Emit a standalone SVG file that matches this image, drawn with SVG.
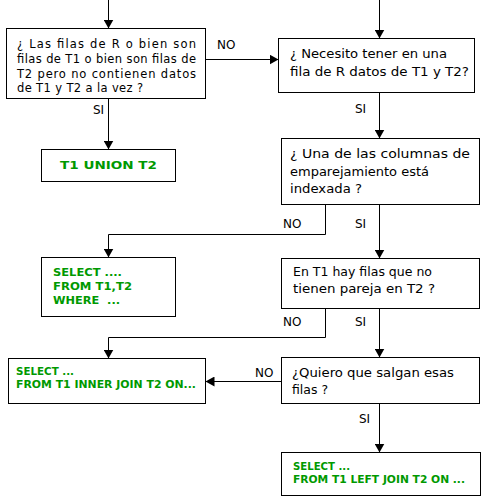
<svg xmlns="http://www.w3.org/2000/svg" width="484" height="499" viewBox="0 0 484 499">
<style>
.box{fill:#fff;stroke:#000;stroke-width:1}
.q{font-family:"DejaVu Sans","Verdana",sans-serif;font-size:12px;fill:#000}
.q1{font-family:"DejaVu Sans","Verdana",sans-serif;font-size:11.5px;fill:#000}
.lbl{font-family:"DejaVu Sans","Verdana",sans-serif;font-size:12px;fill:#000}
.g{font-family:"DejaVu Sans","Verdana",sans-serif;font-size:11px;font-weight:bold;fill:#009900}
.gs{font-family:"DejaVu Sans","Verdana",sans-serif;font-size:10px;font-weight:bold;fill:#009900}
.c{fill:none;stroke:#000;stroke-width:1}
</style>
<defs>
<marker id="ah" markerUnits="userSpaceOnUse" markerWidth="10" markerHeight="10" refX="9" refY="5" orient="auto">
<path d="M0,0 L9,5 L0,10 z" fill="#000"/>
</marker>
</defs>
<rect width="484" height="499" fill="#fff"/>
<g id="connectors">
<path class="c" d="M108.5 0 V28.5" marker-end="url(#ah)"/>
<path class="c" d="M379.5 0 V38.5" marker-end="url(#ah)"/>
<path class="c" d="M205.5 59.5 H278.5" marker-end="url(#ah)"/>
<path class="c" d="M108.5 98.5 V149.5" marker-end="url(#ah)"/>
<path class="c" d="M379.5 92.5 V138.5" marker-end="url(#ah)"/>
<path class="c" d="M325.5 204.5 V234.5 H108.5 V257.5" marker-end="url(#ah)"/>
<path class="c" d="M379.5 204.5 V258.5" marker-end="url(#ah)"/>
<path class="c" d="M325.5 308.5 V337.5 H108.5 V358.5" marker-end="url(#ah)"/>
<path class="c" d="M379.5 308.5 V357.5" marker-end="url(#ah)"/>
<path class="c" d="M281.5 381.5 H205.5" marker-end="url(#ah)"/>
<path class="c" d="M379.5 403.5 V452.5" marker-end="url(#ah)"/>
<text class="lbl" x="217" y="49">NO</text>
<text class="lbl" x="93" y="114">SI</text>
<text class="lbl" x="355" y="113">SI</text>
<text class="lbl" x="283" y="228">NO</text>
<text class="lbl" x="355" y="228">SI</text>
<text class="lbl" x="283" y="326">NO</text>
<text class="lbl" x="355" y="326">SI</text>
<text class="lbl" x="255" y="377">NO</text>
<text class="lbl" x="359" y="423">SI</text>
</g>
<g id="n1">
<rect class="box" x="6.5" y="28.5" width="199" height="70"/>
<text class="q1" x="17" y="48" textLength="179" lengthAdjust="spacing">¿ Las filas de R o bien son</text>
<text class="q1" x="17" y="63" textLength="179" lengthAdjust="spacing">filas de T1 o bien son filas de</text>
<text class="q1" x="17" y="78" textLength="179" lengthAdjust="spacing">T2 pero no contienen datos</text>
<text class="q1" x="17" y="92" textLength="126" lengthAdjust="spacing">de T1 y T2 a la vez ?</text>
</g>
<g id="n2">
<rect class="box" x="41.5" y="149.5" width="134" height="32"/>
<text class="g" x="60" y="169" textLength="97" lengthAdjust="spacingAndGlyphs">T1 UNION T2</text>
</g>
<g id="n3">
<rect class="box" x="278.5" y="38.5" width="196" height="54"/>
<text class="q" x="290" y="58" textLength="157" lengthAdjust="spacingAndGlyphs">¿ Necesito tener en una</text>
<text class="q" x="290" y="76" textLength="179" lengthAdjust="spacingAndGlyphs">fila de R datos de T1 y T2?</text>
</g>
<g id="n4">
<rect class="box" x="281.5" y="138.5" width="198" height="66"/>
<text class="q" x="290" y="158" textLength="180" lengthAdjust="spacingAndGlyphs">¿ Una de las columnas de</text>
<text class="q" x="290" y="176" textLength="139" lengthAdjust="spacingAndGlyphs">emparejamiento está</text>
<text class="q" x="290" y="193" textLength="72" lengthAdjust="spacingAndGlyphs">indexada ?</text>
</g>
<g id="n5">
<rect class="box" x="41.5" y="257.5" width="134" height="59"/>
<text class="g" x="53" y="276" textLength="69" lengthAdjust="spacingAndGlyphs">SELECT ....</text>
<text class="g" x="53" y="290" textLength="79" lengthAdjust="spacingAndGlyphs">FROM T1,T2</text>
<text class="g" x="53" y="304" textLength="67" lengthAdjust="spacingAndGlyphs" xml:space="preserve">WHERE  ...</text>
</g>
<g id="n6">
<rect class="box" x="281.5" y="258.5" width="198" height="50"/>
<text class="q" x="293" y="276" textLength="139" lengthAdjust="spacingAndGlyphs">En T1 hay filas que no</text>
<text class="q" x="293" y="293" textLength="142" lengthAdjust="spacingAndGlyphs">tienen pareja en T2 ?</text>
</g>
<g id="n7">
<rect class="box" x="8.5" y="358.5" width="197" height="45"/>
<text class="gs" x="16" y="375" textLength="58" lengthAdjust="spacingAndGlyphs">SELECT ...</text>
<text class="gs" x="16" y="388" textLength="180" lengthAdjust="spacingAndGlyphs">FROM T1 INNER JOIN T2 ON...</text>
</g>
<g id="n8">
<rect class="box" x="281.5" y="357.5" width="198" height="46"/>
<text class="q" x="292" y="377" textLength="162" lengthAdjust="spacingAndGlyphs">¿Quiero que salgan esas</text>
<text class="q" x="292" y="394" textLength="36" lengthAdjust="spacingAndGlyphs">filas ?</text>
</g>
<g id="n9">
<rect class="box" x="281.5" y="452.5" width="199" height="43"/>
<text class="gs" x="293" y="470" textLength="57" lengthAdjust="spacingAndGlyphs">SELECT ...</text>
<text class="gs" x="293" y="483" textLength="172" lengthAdjust="spacingAndGlyphs">FROM T1 LEFT JOIN T2 ON ...</text>
</g>
</svg>
